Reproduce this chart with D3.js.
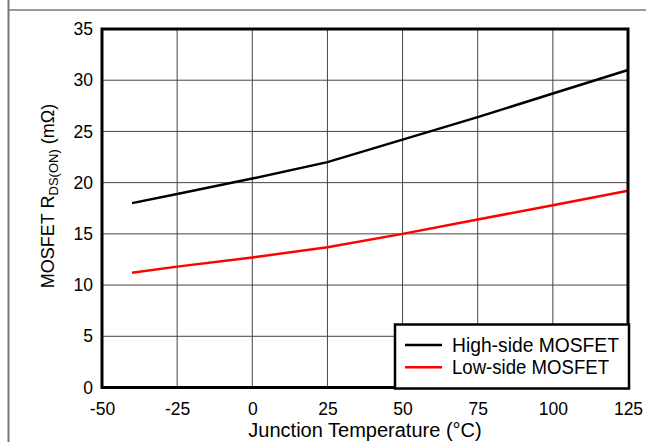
<!DOCTYPE html>
<html><head><meta charset="utf-8">
<script src="https://cdn.jsdelivr.net/npm/d3@7"></script>
<style>body{margin:0;background:#fff}svg{display:block;font-family:Arial,"Liberation Sans",sans-serif}</style>
</head><body>
<script>
const temps = [-40, -25, 0, 25, 50, 75, 100, 125];
const highSide = [18.0, 18.9, 20.4, 22.0, 24.2, 26.4, 28.7, 31.0];
const lowSide = [11.2, 11.8, 12.7, 13.7, 15.0, 16.4, 17.8, 19.2];
const xTicks = [-50, -25, 0, 25, 50, 75, 100, 125];
const yTicks = [0, 5, 10, 15, 20, 25, 30, 35];
const seriesNames = ["High-side MOSFET", "Low-side MOSFET"];
const seriesColors = ["#000000", "#ff0000"];

const W = 646, H = 442;
const svg = d3.select("body").append("svg").attr("width", W).attr("height", H);
const L = 102, R = 628, T = 29, B = 387.5;
const x = d3.scaleLinear().domain([-50, 125]).range([L, R]);
const y = d3.scaleLinear().domain([0, 35]).range([B, T]);
const fmt = d => String(d);

// page decorations
svg.append("line").attr("x1", 8.5).attr("x2", 8.5).attr("y1", 0).attr("y2", H).attr("stroke", "#777").attr("stroke-width", 2);
svg.append("line").attr("x1", 9).attr("x2", W).attr("y1", 10).attr("y2", 10).attr("stroke", "#777").attr("stroke-width", 1.5);

// grid
const g = svg.append("g");
g.selectAll(".vg").data(xTicks.slice(1, -1)).join("line")
  .attr("x1", d => x(d)).attr("x2", d => x(d)).attr("y1", T).attr("y2", B)
  .attr("stroke", "#444").attr("stroke-width", 1);
g.selectAll(".hg").data(yTicks.slice(1, -1)).join("line")
  .attr("x1", L).attr("x2", R).attr("y1", d => y(d)).attr("y2", d => y(d))
  .attr("stroke", "#444").attr("stroke-width", 1);

// axes labels via d3 axes (no lines)
const xa = svg.append("g").attr("transform", `translate(0,${B})`)
  .call(d3.axisBottom(x).tickValues(xTicks).tickSize(0).tickPadding(15).tickFormat(fmt));
xa.select(".domain").remove();
xa.selectAll("text").attr("font-size", 17.5).attr("fill", "#000").attr("font-family", "Arial, 'Liberation Sans', sans-serif");
const ya = svg.append("g").attr("transform", `translate(${L},0)`)
  .call(d3.axisLeft(y).tickValues(yTicks).tickSize(0).tickPadding(9).tickFormat(fmt));
ya.select(".domain").remove();
ya.selectAll("text").attr("font-size", 17.5).attr("fill", "#000").attr("font-family", "Arial, 'Liberation Sans', sans-serif");

// lines
const line = d3.line().x(d => x(d[0])).y(d => y(d[1]));
[highSide, lowSide].forEach((s, i) => {
  svg.append("path").datum(temps.map((t, j) => [t, s[j]]))
    .attr("d", line).attr("fill", "none").attr("stroke", seriesColors[i]).attr("stroke-width", 2.5);
});

// frame
svg.append("rect").attr("x", L).attr("y", T).attr("width", R - L).attr("height", B - T)
  .attr("fill", "none").attr("stroke", "#000").attr("stroke-width", 3);

// legend
const lg = svg.append("g");
lg.append("rect").attr("x", 395).attr("y", 324.5).attr("width", 234).attr("height", 64)
  .attr("fill", "#fff").attr("stroke", "#000").attr("stroke-width", 2.5);
seriesNames.forEach((n, i) => {
  const yy = 345 + i * 22.3;
  lg.append("line").attr("x1", 405).attr("x2", 442).attr("y1", yy).attr("y2", yy)
    .attr("stroke", seriesColors[i]).attr("stroke-width", 2.5);
  lg.append("text").attr("x", 452).attr("y", yy + 7).attr("font-size", 19.5)
    .attr("textLength", i === 0 ? 167 : 157).attr("lengthAdjust", "spacingAndGlyphs").text(n);
});

// axis titles
svg.append("text").attr("x", (L + R) / 2).attr("y", 437).attr("text-anchor", "middle")
  .attr("font-size", 20).text("Junction Temperature (°C)");
const yt = svg.append("text").attr("transform", `translate(54,196) rotate(-90)`)
  .attr("text-anchor", "middle").attr("font-size", 18);
yt.append("tspan").text("MOSFET R");
yt.append("tspan").attr("font-size", 13).attr("dy", 4).text("DS(ON)");
yt.append("tspan").attr("dy", -4).text(" (mΩ)");
</script>
</body></html>
